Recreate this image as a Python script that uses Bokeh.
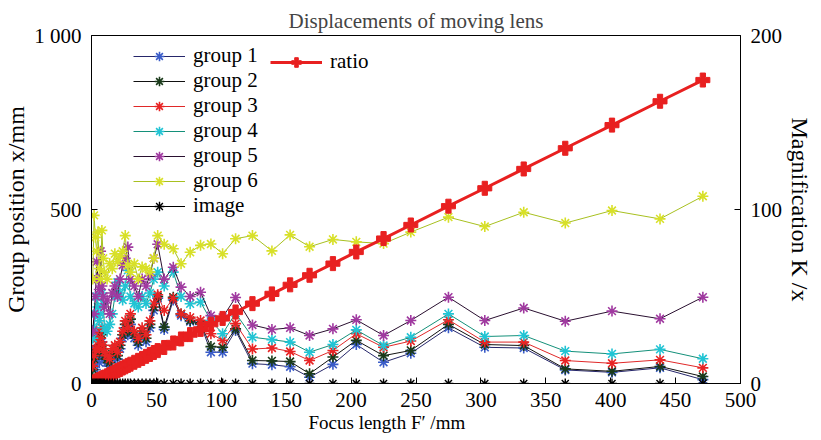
from bokeh.plotting import figure
from bokeh.models import Range1d, LinearAxis, Legend, LegendItem, FixedTicker, Title
from bokeh.embed import file_html
from bokeh.resources import INLINE

# Focus length F' (mm)
focus = [1, 2, 3, 4, 5, 6, 7, 8, 9, 10, 12, 14, 16, 18, 20, 22, 24, 26, 28, 30,
         33, 36, 39, 42, 45, 48, 51, 56, 63, 69, 76, 84, 92, 101, 111, 124, 139,
         153, 168, 186, 204, 225, 246, 275, 303, 333, 365, 401, 438, 471]

group1 = [95, 60, 40, 100, 80, 60, 90, 120, 80, 70, 60, 50, 70, 80, 70, 100, 130, 160, 140, 170,
          130, 110, 140, 120, 160, 210, 245, 155, 240, 195, 178, 170, 90, 90, 152, 57, 54,
          48, 18, 55, 112, 61, 87, 160, 104, 102, 39, 32, 45, 11]
group2 = [40, 70, 90, 130, 100, 90, 110, 140, 100, 80, 70, 60, 85, 100, 80, 110, 140, 170, 150, 185,
          140, 120, 150, 130, 170, 220, 250, 162, 248, 200, 181, 172, 106, 104, 157, 66, 65,
          63, 28, 76, 124, 80, 95, 170, 112, 109, 42, 35, 49, 20]
group3 = [50, 80, 100, 150, 120, 100, 130, 160, 110, 90, 80, 70, 100, 110, 90, 120, 150, 180, 160, 200,
          150, 130, 160, 140, 180, 230, 255, 210, 245, 200, 190, 181, 143, 124, 172, 99, 102,
          92, 66, 95, 143, 104, 122, 183, 119, 119, 66, 58, 68, 45]
group4 = [130, 160, 200, 250, 220, 180, 200, 260, 230, 160, 150, 170, 200, 250, 291, 260, 240, 280, 325, 250,
          230, 220, 250, 230, 260, 300, 320, 280, 320, 250, 229, 234, 181, 143, 202, 133, 126,
          119, 90, 112, 154, 109, 133, 200, 135, 138, 93, 85, 98, 71]
group5 = [150, 200, 250, 350, 300, 270, 380, 280, 250, 220, 240, 200, 260, 280, 250, 300, 340, 360, 392, 300,
          280, 250, 300, 280, 310, 360, 400, 300, 334, 277, 250, 262, 195, 190, 247, 168, 155,
          160, 138, 157, 183, 138, 181, 248, 181, 217, 179, 208, 186, 248]
group6 = [300, 483, 420, 380, 435, 330, 300, 440, 360, 320, 300, 345, 330, 373, 350, 365, 380, 425, 340, 320,
          344, 300, 335, 330, 320, 360, 425, 400, 387, 344, 377, 397, 401, 373, 416, 425, 381,
          427, 393, 414, 407, 402, 435, 478, 451, 492, 461, 497, 473, 538]
image = [0] * 50
ratio = [0.4, 0.7, 1.1, 1.5, 1.9, 2.2, 2.6, 3.0, 3.3, 3.7, 4.4, 5.2, 5.9, 6.7, 7.4, 8.1, 8.9, 9.6, 10.4, 11.1,
         12.2, 13.3, 14.4, 15.6, 16.7, 17.8, 18.9, 20.7, 23.3, 25.6, 28.1, 31.1, 34.1, 37.4, 41.1, 45.9, 51.5,
         56.7, 62.2, 68.9, 75.6, 83.3, 91.1, 101.9, 112.2, 123.3, 135.2, 148.5, 162.2, 174.4]

x_ticks = [0, 50, 100, 150, 200, 250, 300, 350, 400, 450, 500]
left_ticks = [0, 500, 1000]
right_ticks = [0, 100, 200]

FONT = "Liberation Serif"

p = figure(width=821, height=440, x_range=Range1d(0, 500), y_range=Range1d(0, 1000),
           output_backend="svg", toolbar_location=None,
           min_border_left=88, min_border_right=81, min_border_top=35, min_border_bottom=57,
           title="Displacements of moving lens")
p.title.align = "center"
p.title.text_font = FONT
p.title.text_font_size = "21px"
p.title.text_font_style = "normal"
p.title.standoff = 6
p.background_fill_color = "white"
p.border_fill_color = "white"
p.outline_line_color = "black"
p.outline_line_width = 1
p.xgrid.visible = False
p.ygrid.visible = False

p.extra_y_ranges = {"r": Range1d(0, 200)}
raxis = LinearAxis(y_range_name="r", ticker=FixedTicker(ticks=right_ticks),
                   axis_label="Magnification K /x")
p.add_layout(raxis, "right")

p.xaxis.ticker = FixedTicker(ticks=x_ticks)
p.yaxis[0].ticker = FixedTicker(ticks=left_ticks)
p.yaxis[0].major_label_overrides = {1000: "1 000"}
p.yaxis[0].axis_label = "Group position x/mm"

for ax in [p.xaxis[0], p.yaxis[0], raxis]:
    ax.major_tick_in = 6
    ax.major_tick_out = 0
    ax.minor_tick_in = 0
    ax.minor_tick_out = 0
    ax.axis_line_color = "black"
    ax.major_label_text_font = FONT
    ax.major_label_text_font_size = "21px"
    ax.major_label_text_color = "black"
    ax.axis_label_text_font = FONT
    ax.axis_label_text_font_size = "24px"
    ax.axis_label_text_font_style = "normal"
    ax.axis_label_text_color = "black"
    ax.major_label_standoff = 10
    ax.axis_label_standoff = 2
p.xaxis[0].major_label_standoff = 9

# x-axis title, a little left of centre as in the original
xt = Title(text="Focus length F\u2032 /mm", align="left", offset=217, text_font=FONT,
           text_font_size="19px", text_font_style="normal", text_color="black", standoff=0)
p.add_layout(xt, "below")

series = [
    ("group 1", group1, "#26266a", "#3a5cc8"),
    ("group 2", group2, "#111111", "#1a3a1a"),
    ("group 3", group3, "#e02828", "#e82424"),
    ("group 4", group4, "#14907a", "#22c4d4"),
    ("group 5", group5, "#2a1030", "#a03aa0"),
    ("group 6", group6, "#a8c020", "#d8e028"),
]

items = []
for name, ys, lc, mc in series:
    ln = p.line(focus, ys, line_color=lc, line_width=1)
    sc = p.scatter(focus, ys, marker="asterisk", size=11, line_color=mc, line_width=1.6)
    items.append(LegendItem(label=name, renderers=[ln, sc]))

rl = p.line(focus, ratio, y_range_name="r", line_color="#e82020", line_width=3)
rs = p.scatter(focus, ratio, y_range_name="r", marker="plus", size=14,
               line_color="#e82020", fill_color="#e82020", line_width=1)

il = p.line(focus, image, line_color="black", line_width=1.2)
isc = p.scatter(focus, image, marker="asterisk", size=10, line_color="black", line_width=1.4)
items.append(LegendItem(label="image", renderers=[il, isc]))

def style_legend(lg):
    lg.border_line_color = None
    lg.background_fill_alpha = 0
    lg.padding = 0
    lg.margin = 0
    lg.spacing = 0
    lg.glyph_width = 52
    lg.glyph_height = 24
    lg.label_height = 24
    lg.label_standoff = 8
    lg.label_text_font = FONT
    lg.label_text_font_size = "21px"
    lg.label_text_color = "black"

leg1 = Legend(items=items, location=(42, 165))
style_legend(leg1)
leg2 = Legend(items=[LegendItem(label="ratio", renderers=[rl, rs])], location=(179, 309))
style_legend(leg2)
p.add_layout(leg1, "center")
p.add_layout(leg2, "center")

open("out.html", "w").write(file_html(p, INLINE))
